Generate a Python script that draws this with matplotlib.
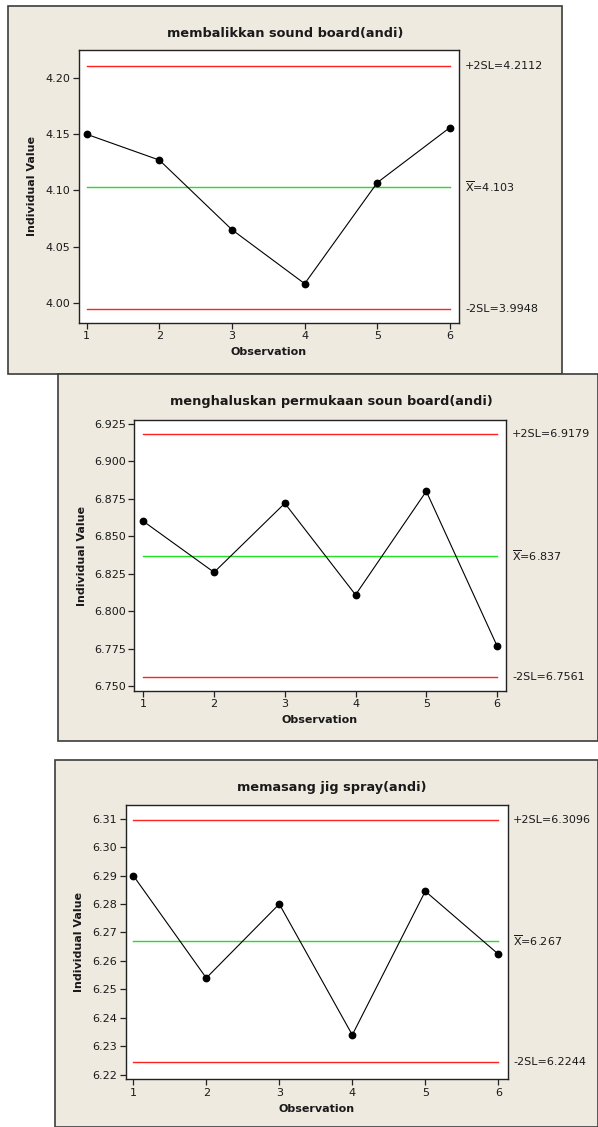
import matplotlib
matplotlib.use("Agg")
import matplotlib.pyplot as plt
from matplotlib.patches import Rectangle
from matplotlib.ticker import FixedLocator, FormatStrFormatter

W, H = 598, 1127
DPI = 100

# ---- data -------------------------------------------------------------
observation = [1, 2, 3, 4, 5, 6]

titles = [
    "membalikkan sound board(andi)",
    "menghaluskan permukaan soun board(andi)",
    "memasang jig spray(andi)",
]

values_1 = [4.150, 4.127, 4.065, 4.017, 4.107, 4.156]
values_2 = [6.860, 6.826, 6.872, 6.811, 6.880, 6.777]
values_3 = [6.290, 6.254, 6.280, 6.234, 6.2845, 6.2624]

upper_limits = [4.2112, 6.9179, 6.3096]
means = [4.103, 6.837, 6.267]
lower_limits = [3.9948, 6.7561, 6.2244]

mean_text = ["4.103", "6.837", "6.267"]
upper_text = ["4.2112", "6.9179", "6.3096"]
lower_text = ["3.9948", "6.7561", "6.2244"]

yticks_1 = [4.00, 4.05, 4.10, 4.15, 4.20]
yticks_2 = [6.750, 6.775, 6.800, 6.825, 6.850, 6.875, 6.900, 6.925]
yticks_3 = [6.22, 6.23, 6.24, 6.25, 6.26, 6.27, 6.28, 6.29, 6.30, 6.31]

# ---- layout (pixels) -----------------------------------------------------
panels = [
    dict(box=(8, 6, 562, 374), ax=(79, 50, 459, 323), ylim=(3.982, 4.225),
         xlim=(0.894, 6.124), title_xy=(285, 33), ylab_x=32, xlab_y=352,
         lab_x=465, fmt="%.2f"),
    dict(box=(58, 374, 598, 741), ax=(134, 420, 506, 691), ylim=(6.7469, 6.9275),
         xlim=(0.868, 6.127), title_xy=(331, 401), ylab_x=82, xlab_y=720,
         lab_x=512, fmt="%.3f"),
    dict(box=(55, 760, 598, 1127), ax=(125.7, 805.3, 507.7, 1079.3), ylim=(6.2184, 6.3147),
         xlim=(0.896, 6.129), title_xy=(332, 788), ylab_x=79, xlab_y=1109,
         lab_x=513, fmt="%.2f"),
]
series = [values_1, values_2, values_3]
yticks = [yticks_1, yticks_2, yticks_3]

BEIGE = "#eeeae0"
TXT = "#1a1a1a"


def fx(x):
    return x / W


def fy(y):
    return 1 - y / H


fig = plt.figure(figsize=(W / DPI, H / DPI), dpi=DPI)
fig.patch.set_facecolor("white")

for i, p in enumerate(panels):
    x0, y0, x1, y1 = p["box"]
    fig.patches.append(Rectangle((fx(x0), fy(y1)), fx(x1 - x0), (y1 - y0) / H,
                                 transform=fig.transFigure, facecolor=BEIGE,
                                 edgecolor="#3c3c3c", linewidth=1.2, zorder=-10))

    a0, b0, a1, b1 = p["ax"]
    ax = fig.add_axes([fx(a0), fy(b1), fx(a1 - a0), (b1 - b0) / H])
    ax.set_zorder(5)
    ax.set_facecolor("white")
    for s in ax.spines.values():
        s.set_color("#222222")
        s.set_linewidth(1.0)

    ax.plot([observation[0], observation[-1]], [upper_limits[i]] * 2,
            color="#ff2020", lw=1.0, zorder=2)
    ax.plot([observation[0], observation[-1]], [lower_limits[i]] * 2,
            color="#ff2020", lw=1.0, zorder=2)
    ax.plot([observation[0], observation[-1]], [means[i]] * 2,
            color="#20e020", lw=1.0, zorder=2)
    ax.plot(observation, series[i], color="black", lw=0.8, marker="o",
            markersize=4.6, markerfacecolor="black", markeredgecolor="black", zorder=3)

    ax.set_xlim(*p["xlim"])
    ax.set_ylim(*p["ylim"])
    ax.xaxis.set_major_locator(FixedLocator(observation))
    ax.yaxis.set_major_locator(FixedLocator(yticks[i]))
    ax.yaxis.set_major_formatter(FormatStrFormatter(p["fmt"]))
    ax.tick_params(direction="out", length=4, width=0.9, colors="#222222",
                   labelsize=8, labelcolor=TXT, pad=2)

    tx, ty = p["title_xy"]
    fig.text(fx(tx), fy(ty), titles[i], ha="center", va="center",
             fontsize=9.3, fontweight="bold", color=TXT, zorder=10)
    fig.text(fx(p["ylab_x"]), fy((b0 + b1) / 2), "Individual Value", rotation=90,
             ha="center", va="center", fontsize=8, fontweight="bold", color=TXT,
             zorder=10)
    fig.text(fx((a0 + a1) / 2), fy(p["xlab_y"]), "Observation", ha="center",
             va="center", fontsize=8, fontweight="bold", color=TXT, zorder=10)

    # limit / centre labels on the right side of the plot
    trans = ax.get_yaxis_transform()
    lx = (p["lab_x"] - a0) / (a1 - a0)
    ax.text(lx, upper_limits[i], "+2SL=" + upper_text[i], transform=trans,
            ha="left", va="center", fontsize=8, color=TXT, clip_on=False)
    ax.text(lx, means[i], r"$\overline{\mathregular{X}}$=" + mean_text[i],
            transform=trans, ha="left", va="center", fontsize=8, color=TXT,
            clip_on=False)
    ax.text(lx, lower_limits[i], "-2SL=" + lower_text[i], transform=trans,
            ha="left", va="center", fontsize=8, color=TXT, clip_on=False)

fig.savefig("out.png", dpi=DPI, facecolor=fig.get_facecolor())
